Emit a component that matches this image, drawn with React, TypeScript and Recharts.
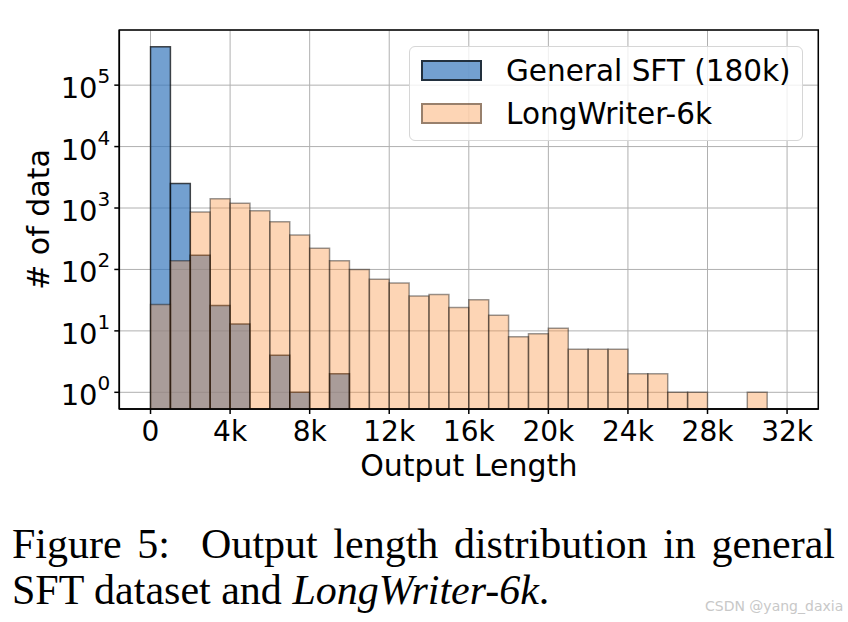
import React from 'react';
import { BarChart, Bar, XAxis, YAxis, CartesianGrid, ReferenceArea } from 'recharts';

// histogram bins (1k wide), counts
const binStarts = [
  0, 1000, 2000, 3000, 4000, 5000, 6000, 7000, 8000, 9000, 10000, 11000, 12000, 13000, 14000, 15000,
  16000, 17000, 18000, 19000, 20000, 21000, 22000, 23000, 24000, 25000, 26000, 27000, 28000, 29000, 30000,
];
const generalSft = [
  420000, 2500, 170, 26, 13, null, 4, 1, null, 2, null, null, null, null, null, null,
  null, null, null, null, null, null, null, null, null, null, null, null, null, null, null,
];
const longWriter = [
  27, 138, 860, 1420, 1190, 900, 600, 365, 222, 138, 100, 69, 60, 37, 39, 24,
  32, 18, 8, 9, 11, 5, 5, 5, 2, 2, 1, 1, null, null, 1,
];

const xTicks = [0, 4000, 8000, 12000, 16000, 20000, 24000, 28000, 32000];
const yTicks = [1, 10, 100, 1000, 10000, 100000];
const yMinorTicks = [
  0.6, 0.7, 0.8, 0.9,
  2, 3, 4, 5, 6, 7, 8, 9,
  20, 30, 40, 50, 60, 70, 80, 90,
  200, 300, 400, 500, 600, 700, 800, 900,
  2000, 3000, 4000, 5000, 6000, 7000, 8000, 9000,
  20000, 30000, 40000, 50000, 60000, 70000, 80000, 90000,
  200000, 300000, 400000, 500000, 600000, 700000,
];

const X_DOMAIN = [-1570, 33570];
const Y_DOMAIN = [0.535, 790000];
const BIN_PX = 19.89;

const SFT = { name: 'General SFT (180k)', fill: '#3777BC', alpha: 0.7 };
const LW = { name: 'LongWriter-6k', fill: '#FA9646', alpha: 0.4 };

const FONT = '"DejaVu Sans", sans-serif';
const SERIF = '"Liberation Serif", "Times New Roman", serif';

const data = binStarts.map((s, i) => ({ x: s + 500, sft: generalSft[i], lw: longWriter[i] }));

const fmtX = (v: number) => (v === 0 ? '0' : `${v / 1000}k`);

function hexA(hex: string, a: number) {
  const r = parseInt(hex.slice(1, 3), 16);
  const g = parseInt(hex.slice(3, 5), 16);
  const b = parseInt(hex.slice(5, 7), 16);
  return `rgba(${r},${g},${b},${a})`;
}

const LogTick = (props: any) => {
  const { x, y, payload } = props;
  const exp = Math.round(Math.log10(payload.value));
  return (
    <text x={x - 2} y={y + 3} textAnchor="end" dominantBaseline="central" fontSize={29} fill="#000" fontFamily={FONT}>
      10
      <tspan dy={-12} fontSize={20}>{exp}</tspan>
    </text>
  );
};

const EmptyTick = () => <g />;

function LegendBox() {
  const entries = [SFT, LW];
  return (
    <div
      style={{
        position: 'absolute',
        left: 409,
        top: 46,
        width: 392,
        height: 93,
        border: '1px solid #d6d6d6',
        borderRadius: 6,
        background: 'rgba(255,255,255,0.8)',
        fontFamily: FONT,
      }}
    >
      {entries.map((e, i) => (
        <div key={e.name}>
          <div
            style={{
              position: 'absolute',
              left: 11,
              top: 13 + i * 43,
              width: 57,
              height: 17,
              border: `2px solid rgba(0,0,0,${e.alpha})`,
              backgroundColor: hexA(e.fill, e.alpha),
            }}
          />
          <div
            style={{
              position: 'absolute',
              left: 96,
              top: 24 + i * 43,
              transform: 'translateY(-50%)',
              fontSize: 29.5,
              lineHeight: '34px',
              whiteSpace: 'nowrap',
              color: '#000',
            }}
          >
            {e.name}
          </div>
        </div>
      ))}
    </div>
  );
}

export default function App() {
  return (
    <div style={{ position: 'absolute', left: 0, top: 0, width: 848, height: 622, background: '#fff' }}>
      <BarChart
        width={848}
        height={490}
        data={data}
        margin={{ top: 30, right: 29.7, bottom: 0, left: 0 }}
        style={{ fontFamily: FONT }}
      >
        <CartesianGrid xAxisId="a" stroke="#b0b0b0" strokeWidth={1} />
        <XAxis
          xAxisId="a"
          dataKey="x"
          type="number"
          domain={X_DOMAIN}
          allowDataOverflow
          ticks={xTicks}
          tickFormatter={fmtX}
          height={81}
          tickSize={5}
          tickMargin={7}
          stroke="#000"
          strokeWidth={1.5}
          tick={{ fontSize: 28, fill: '#000', fontFamily: FONT }}
          label={{ value: 'Output Length', position: 'insideBottom', offset: 14, fontSize: 30, fill: '#000', fontFamily: FONT }}
        />
        <XAxis xAxisId="b" dataKey="x" type="number" domain={X_DOMAIN} allowDataOverflow hide />
        <YAxis
          type="number"
          scale="log"
          domain={Y_DOMAIN}
          allowDataOverflow
          ticks={yTicks}
          width={119.3}
          tickSize={5}
          stroke="#000"
          strokeWidth={1.5}
          tick={<LogTick />}
          label={{ value: '# of data', angle: -90, position: 'insideLeft', offset: 38, fontSize: 30, fill: '#000', fontFamily: FONT, style: { textAnchor: 'middle' } }}
        />
        <YAxis
          yAxisId="minor"
          type="number"
          scale="log"
          domain={Y_DOMAIN}
          allowDataOverflow
          ticks={yMinorTicks}
          width={0}
          tickSize={3}
          axisLine={false}
          stroke="#000"
          tick={<EmptyTick />}
        />
        <Bar
          xAxisId="a"
          dataKey="sft"
          name={SFT.name}
          barSize={BIN_PX}
          fill={SFT.fill}
          fillOpacity={SFT.alpha}
          stroke="#000"
          strokeOpacity={SFT.alpha}
          strokeWidth={1.5}
          isAnimationActive={false}
        />
        <Bar
          xAxisId="b"
          dataKey="lw"
          name={LW.name}
          barSize={BIN_PX}
          fill={LW.fill}
          fillOpacity={LW.alpha}
          stroke="#000"
          strokeOpacity={LW.alpha}
          strokeWidth={1.5}
          isAnimationActive={false}
        />
        <ReferenceArea
          xAxisId="a"
          x1={X_DOMAIN[0]}
          x2={X_DOMAIN[1]}
          y1={Y_DOMAIN[0]}
          y2={Y_DOMAIN[1]}
          fill="none"
          stroke="#000"
          strokeWidth={1.5}
          ifOverflow="visible"
        />
      </BarChart>
      <LegendBox />
      <div
        style={{
          position: 'absolute',
          left: 12,
          top: 521,
          width: 823,
          fontFamily: SERIF,
          fontSize: 42,
          lineHeight: '46px',
          textAlign: 'justify',
          textAlignLast: 'justify',
          whiteSpace: 'nowrap',
          color: '#000',
        }}
      >
        Figure 5:&nbsp; Output length distribution in general
      </div>
      <div
        style={{
          position: 'absolute',
          left: 12,
          top: 567,
          fontFamily: SERIF,
          fontSize: 42,
          lineHeight: '46px',
          whiteSpace: 'nowrap',
          color: '#000',
        }}
      >
        SFT dataset and <i>LongWriter-6k</i>.
      </div>
      <div
        style={{
          position: 'absolute',
          left: 705,
          top: 598,
          fontFamily: FONT,
          fontSize: 14,
          color: '#c8c8c8',
        }}
      >
        CSDN @yang_daxia
      </div>
    </div>
  );
}
